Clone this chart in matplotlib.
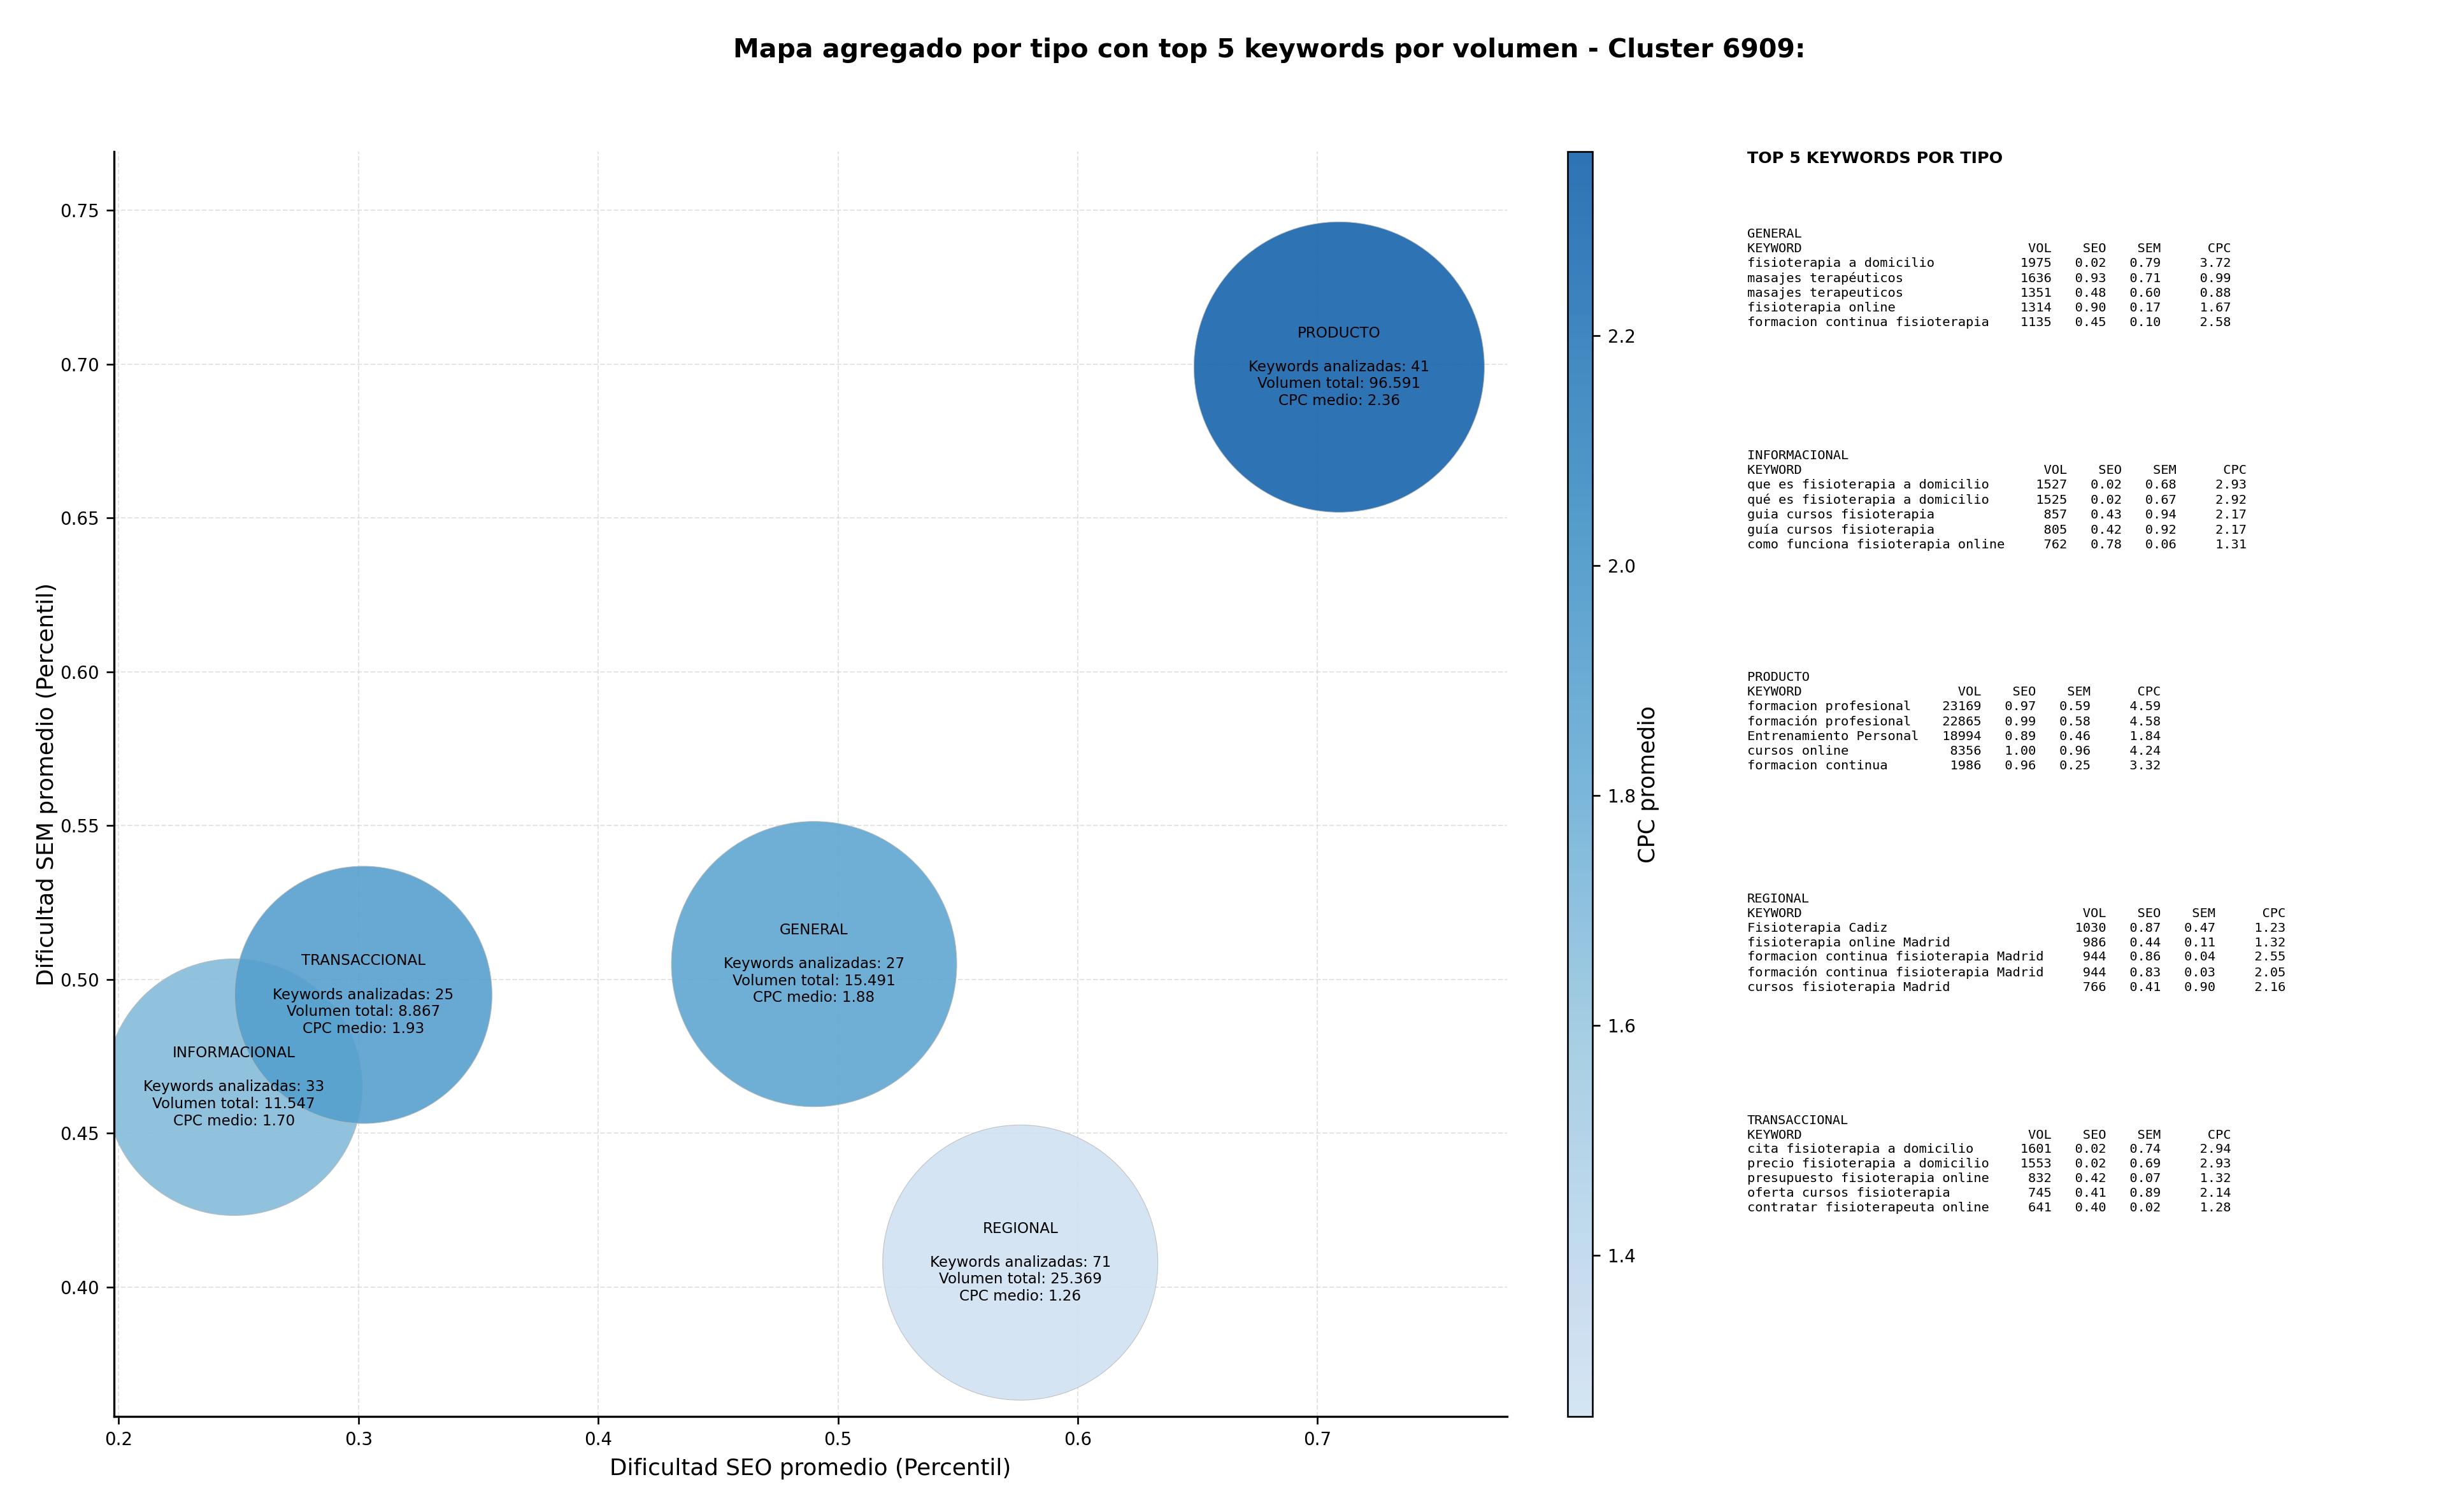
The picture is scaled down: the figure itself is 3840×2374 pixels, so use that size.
import matplotlib
matplotlib.use("Agg")
import matplotlib.pyplot as plt
import numpy as np
from matplotlib.colors import ListedColormap

# --- datos agregados por tipo (Cluster 6909) ---
tipos = ["GENERAL", "INFORMACIONAL", "PRODUCTO", "REGIONAL", "TRANSACCIONAL"]
seo_medio = [0.490, 0.248, 0.709, 0.576, 0.302]
sem_medio = [0.505, 0.465, 0.699, 0.408, 0.495]
n_keywords = [27, 33, 41, 71, 25]
volumen_total = [15491, 11547, 96591, 25369, 8867]
cpc_medio = [1.88, 1.70, 2.36, 1.26, 1.93]

# top 5 keywords por tipo: (keyword, vol, seo, sem, cpc)
top_general = [
    ("fisioterapia a domicilio", 1975, 0.02, 0.79, 3.72),
    ("masajes terapéuticos", 1636, 0.93, 0.71, 0.99),
    ("masajes terapeuticos", 1351, 0.48, 0.60, 0.88),
    ("fisioterapia online", 1314, 0.90, 0.17, 1.67),
    ("formacion continua fisioterapia", 1135, 0.45, 0.10, 2.58),
]
top_informacional = [
    ("que es fisioterapia a domicilio", 1527, 0.02, 0.68, 2.93),
    ("qué es fisioterapia a domicilio", 1525, 0.02, 0.67, 2.92),
    ("guia cursos fisioterapia", 857, 0.43, 0.94, 2.17),
    ("guía cursos fisioterapia", 805, 0.42, 0.92, 2.17),
    ("como funciona fisioterapia online", 762, 0.78, 0.06, 1.31),
]
top_producto = [
    ("formacion profesional", 23169, 0.97, 0.59, 4.59),
    ("formación profesional", 22865, 0.99, 0.58, 4.58),
    ("Entrenamiento Personal", 18994, 0.89, 0.46, 1.84),
    ("cursos online", 8356, 1.00, 0.96, 4.24),
    ("formacion continua", 1986, 0.96, 0.25, 3.32),
]
top_regional = [
    ("Fisioterapia Cadiz", 1030, 0.87, 0.47, 1.23),
    ("fisioterapia online Madrid", 986, 0.44, 0.11, 1.32),
    ("formacion continua fisioterapia Madrid", 944, 0.86, 0.04, 2.55),
    ("formación continua fisioterapia Madrid", 944, 0.83, 0.03, 2.05),
    ("cursos fisioterapia Madrid", 766, 0.41, 0.90, 2.16),
]
top_transaccional = [
    ("cita fisioterapia a domicilio", 1601, 0.02, 0.74, 2.94),
    ("precio fisioterapia a domicilio", 1553, 0.02, 0.69, 2.93),
    ("presupuesto fisioterapia online", 832, 0.42, 0.07, 1.32),
    ("oferta cursos fisioterapia", 745, 0.41, 0.89, 2.14),
    ("contratar fisioterapeuta online", 641, 0.40, 0.02, 1.28),
]
tablas = [top_general, top_informacional, top_producto, top_regional, top_transaccional]

# tamaño visual de cada burbuja (diámetro en px a 240 dpi)
bubble_px = [448, 403, 456, 432, 404]


def tabla_texto(nombre, filas):
    """Bloque de texto monoespaciado con el top 5 de un tipo."""
    w = max(len(f[0]) for f in filas) + 2
    lineas = [nombre, f"{'KEYWORD':<{w}}{'VOL':>6}{'SEO':>7}{'SEM':>7}{'CPC':>9}"]
    for kw, vol, seo, sem, cpc in filas:
        lineas.append(f"{kw:<{w}}{vol:>6}{seo:>7.2f}{sem:>7.2f}{cpc:>9.2f}")
    return "\n".join(lineas)


def main():
    dpi = 240
    fig = plt.figure(figsize=(3840 / dpi, 2374 / dpi), dpi=dpi)
    ax = fig.add_axes([0.0466, 0.0632, 0.5695, 0.8365])
    cax = fig.add_axes([0.6409, 0.0632, 0.0102, 0.8365])

    cmap = ListedColormap(plt.cm.Blues(np.linspace(0.2, 0.8, 256)))
    sizes = [(d * 72 / dpi) ** 2 for d in bubble_px]
    sc = ax.scatter(seo_medio, sem_medio, s=sizes, c=cpc_medio, cmap=cmap,
                    alpha=0.9, edgecolors="#b8b8b8", linewidths=0.3, zorder=2)

    for i, tipo in enumerate(tipos):
        vol = f"{volumen_total[i]:,}".replace(",", ".")
        txt = (f"{tipo}\n\nKeywords analizadas: {n_keywords[i]}\n"
               f"Volumen total: {vol}\nCPC medio: {cpc_medio[i]:.2f}")
        ax.text(seo_medio[i], sem_medio[i], txt, ha="center", va="center",
                multialignment="center", fontsize=6.9, zorder=3)

    ax.set_xlim(min(seo_medio) - 0.05, max(seo_medio) + 0.07)
    ax.set_ylim(min(sem_medio) - 0.05, max(sem_medio) + 0.07)
    ax.grid(True, linestyle="--", color="lightgrey", alpha=0.6, linewidth=0.6)
    ax.set_axisbelow(True)
    ax.spines["top"].set_visible(False)
    ax.spines["right"].set_visible(False)
    for s in ("left", "bottom"):
        ax.spines[s].set_linewidth(1.0)
    ax.tick_params(labelsize=8.3)
    ax.set_xlabel("Dificultad SEO promedio (Percentil)", fontsize=10.7)
    ax.set_ylabel("Dificultad SEM promedio (Percentil)", fontsize=10.7, labelpad=1)

    cb = fig.colorbar(sc, cax=cax)
    cb.set_label("CPC promedio", fontsize=10.5, labelpad=1)
    cb.ax.tick_params(labelsize=8.3)

    fig.suptitle("Mapa agregado por tipo con top 5 keywords por volumen - Cluster 6909:",
                 x=0.519, y=0.975, fontsize=12.3, fontweight="bold")

    fig.text(0.7143, 0.900, "TOP 5 KEYWORDS POR TIPO", fontsize=7.6,
             fontweight="bold", va="top", ha="left")
    for k, (tipo, filas) in enumerate(zip(tipos, tablas)):
        fig.text(0.7143, 0.849 - k * 0.1465, tabla_texto(tipo, filas),
                 family="DejaVu Sans Mono", fontsize=6.1, va="top", ha="left",
                 linespacing=1.26)

    fig.savefig("out.png", dpi=dpi)


if __name__ == "__main__":
    main()
